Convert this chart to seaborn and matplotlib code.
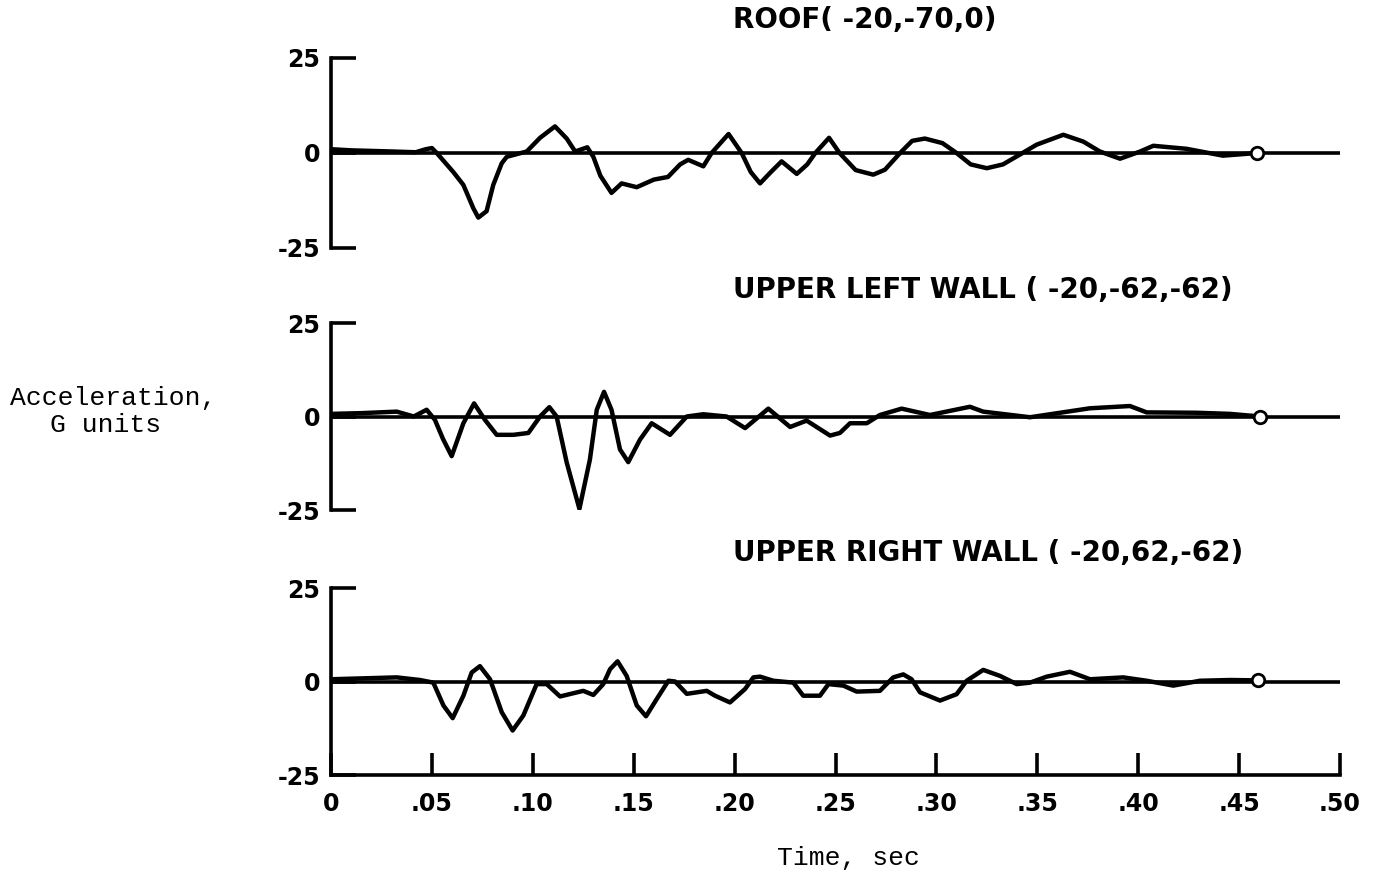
import matplotlib
matplotlib.use("Agg")
import matplotlib.pyplot as plt
import numpy as np
import pandas as pd
import seaborn as sns

# ---------------- data ----------------
roof_t = [0.000, 0.010, 0.030, 0.042, 0.047, 0.050, 0.0524, 0.0606, 0.0656, 0.0705,
          0.0730, 0.0771, 0.0804, 0.0846, 0.0871, 0.097, 0.1036, 0.111, 0.1168, 0.121,
          0.127, 0.130, 0.1335, 0.139, 0.144, 0.1515, 0.160, 0.167, 0.173, 0.177,
          0.1845, 0.1886, 0.197, 0.2035, 0.208, 0.2126, 0.218, 0.2233, 0.2308, 0.236,
          0.240, 0.2468, 0.252, 0.260, 0.2687, 0.2745, 0.282, 0.288, 0.2943, 0.303,
          0.310, 0.317, 0.325, 0.333, 0.3414, 0.3497, 0.3629, 0.3728, 0.381, 0.391,
          0.401, 0.4075, 0.424, 0.442, 0.459]
roof_g = [1.0, 0.7, 0.4, 0.2, 1.0, 1.3, 0.0, -5.0, -8.4, -14.5,
          -17.0, -15.3, -8.4, -2.7, -1.0, 0.4, 4.0, 7.0, 3.8, 0.4,
          1.5, -1.0, -6.0, -10.5, -8.0, -9.0, -7.0, -6.3, -3.0, -1.8,
          -3.5, 0.0, 5.0, 0.0, -5.0, -8.0, -5.0, -2.2, -5.5, -3.0,
          0.0, 4.0, 0.0, -4.5, -5.7, -4.4, 0.0, 3.2, 3.8, 2.6,
          0.0, -3.0, -4.0, -3.0, -0.4, 2.2, 4.8, 3.0, 0.4, -1.5,
          0.4, 1.9, 1.1, -0.7, 0.0]

left_t = [0.000, 0.015, 0.0326, 0.041, 0.0474, 0.0515, 0.0555, 0.0598, 0.0656, 0.0709,
          0.0763, 0.0821, 0.0904, 0.0978, 0.1036, 0.1082, 0.1118, 0.1168, 0.1231, 0.1283,
          0.1317, 0.1353, 0.139, 0.1432, 0.1473, 0.1531, 0.1589, 0.168, 0.1763, 0.1845,
          0.196, 0.2052, 0.2167, 0.2275, 0.2357, 0.2473, 0.2522, 0.2572, 0.2655, 0.272,
          0.2828, 0.2968, 0.3166, 0.3232, 0.3464, 0.3761, 0.3959, 0.4042, 0.429, 0.4455,
          0.4604]
left_g = [0.7, 0.9, 1.3, 0.0, 1.8, -0.9, -6.0, -10.6, -1.8, 3.5,
          -0.9, -4.9, -4.9, -4.4, 0.0, 2.5, 0.0, -12.3, -24.7, -11.5,
          1.8, 6.6, 1.8, -8.8, -12.2, -6.2, -1.8, -4.9, 0.0, 0.6,
          0.0, -3.1, 2.1, -2.8, -1.1, -5.1, -4.4, -1.8, -1.8, 0.4,
          2.1, 0.4, 2.6, 1.3, -0.2, 2.2, 2.8, 1.1, 1.0, 0.7,
          0.0]

right_t = [0.000, 0.0326, 0.0441, 0.0507, 0.0557, 0.0603, 0.0656, 0.0697, 0.0738, 0.0788,
           0.0846, 0.0900, 0.0953, 0.1019, 0.1069, 0.1135, 0.125, 0.130, 0.1349, 0.1383,
           0.142, 0.1465, 0.1515, 0.1561, 0.1614, 0.1672, 0.1705, 0.1763, 0.1862, 0.1903,
           0.1977, 0.2052, 0.2093, 0.2126, 0.2192, 0.2291, 0.234, 0.2423, 0.2465, 0.2539,
           0.2605, 0.272, 0.2786, 0.2836, 0.2877, 0.2919, 0.3018, 0.310, 0.315, 0.3232,
           0.3315, 0.3398, 0.3464, 0.3547, 0.3662, 0.3761, 0.3926, 0.4042, 0.4174, 0.4306,
           0.4455, 0.4595]
right_g = [0.6, 1.1, 0.4, -0.3, -6.4, -9.8, -3.8, 2.4, 4.1, 0.6,
           -8.2, -13.1, -9.1, -0.7, -0.7, -4.0, -2.5, -3.6, -0.7, 3.3,
           5.4, 1.5, -6.4, -9.3, -4.7, 0.2, 0.0, -3.3, -2.5, -3.8,
           -5.6, -2.0, 1.1, 1.3, 0.2, -0.3, -3.8, -3.8, -0.7, -1.1,
           -2.7, -2.5, 1.1, 1.9, 0.6, -2.9, -5.1, -3.4, 0.2, 3.1,
           1.5, -0.7, -0.3, 1.3, 2.6, 0.6, 1.1, 0.2, -1.1, 0.2,
           0.4, 0.3]

titles = ["ROOF( -20,-70,0)", "UPPER LEFT WALL ( -20,-62,-62)", "UPPER RIGHT WALL ( -20,62,-62)"]
y_ticks = [-25, 0, 25]
y_tick_labels = ["-25", "0", "25"]
x_ticks = [0, 0.05, 0.10, 0.15, 0.20, 0.25, 0.30, 0.35, 0.40, 0.45, 0.50]
x_tick_labels = ["0", ".05", ".10", ".15", ".20", ".25", ".30", ".35", ".40", ".45", ".50"]

series = [(roof_t, roof_g), (left_t, left_g), (right_t, right_g)]

# ---------------- figure ----------------
sns.set_style("white")
plt.rcParams["font.family"] = ["DejaVu Sans"]
plt.rcParams["text.color"] = "black"
plt.rcParams["xtick.color"] = "black"
plt.rcParams["ytick.color"] = "black"

FW, FH = 1380, 880
fig = plt.figure(figsize=(FW / 100, FH / 100), dpi=100)
fig.patch.set_facecolor("white")

left_px, right_px = 331, 1340
boxes = [(58, 248), (323, 510), (588, 775)]
title_y = [20, 290, 553]

for i, ((t, g), (top, bot)) in enumerate(zip(series, boxes)):
    ax = fig.add_axes([left_px / FW, 1 - bot / FH, (right_px - left_px) / FW, (bot - top) / FH])
    ax.set_facecolor("white")
    df = pd.DataFrame({"t": t, "g": g})
    ax.axhline(0, color="black", lw=2.6, zorder=1)
    sns.lineplot(data=df, x="t", y="g", ax=ax, color="black", lw=3.2,
                 estimator=None, sort=False, zorder=2,
                 solid_joinstyle="round", solid_capstyle="round")
    ax.plot([t[-1]], [g[-1]], "o", mfc="white", mec="black", ms=9, mew=2, zorder=3)
    ax.set_xlim(0, 0.5)
    ax.set_ylim(-25, 25)
    ax.set_xlabel("")
    ax.set_ylabel("")
    for s in ["top", "right"]:
        ax.spines[s].set_visible(False)
    ax.spines["left"].set_linewidth(2.6)
    ax.spines["left"].set_color("black")
    ax.set_yticks(y_ticks)
    ax.set_yticklabels(y_tick_labels, fontsize=17, fontweight="bold", color="black")
    ax.tick_params(axis="y", left=True, direction="in", length=18, width=2.6, pad=8,
                   colors="black")
    if i < 2:
        ax.spines["bottom"].set_visible(False)
        ax.set_xticks([])
    else:
        ax.spines["bottom"].set_linewidth(2.6)
        ax.spines["bottom"].set_color("black")
        ax.set_xticks(x_ticks)
        ax.set_xticklabels(x_tick_labels, fontsize=17, fontweight="bold", color="black")
        ax.tick_params(axis="x", bottom=True, direction="in", length=16, width=2.6, pad=12,
                       colors="black")
    fig.text(733 / FW, 1 - title_y[i] / FH, titles[i], ha="left", va="center",
             fontsize=20, fontweight="bold", color="black")

mono = ["Liberation Mono", "DejaVu Sans Mono"]
fig.text(10 / FW, 1 - 398 / FH, "Acceleration,", ha="left", va="center", fontsize=19,
         family=mono, color="black")
fig.text(50 / FW, 1 - 425 / FH, "G units", ha="left", va="center", fontsize=19,
         family=mono, color="black")
fig.text(848 / FW, 1 - 858 / FH, "Time, sec", ha="center", va="center", fontsize=19,
         family=mono, color="black")

fig.savefig("out.png", dpi=100, facecolor="white")
